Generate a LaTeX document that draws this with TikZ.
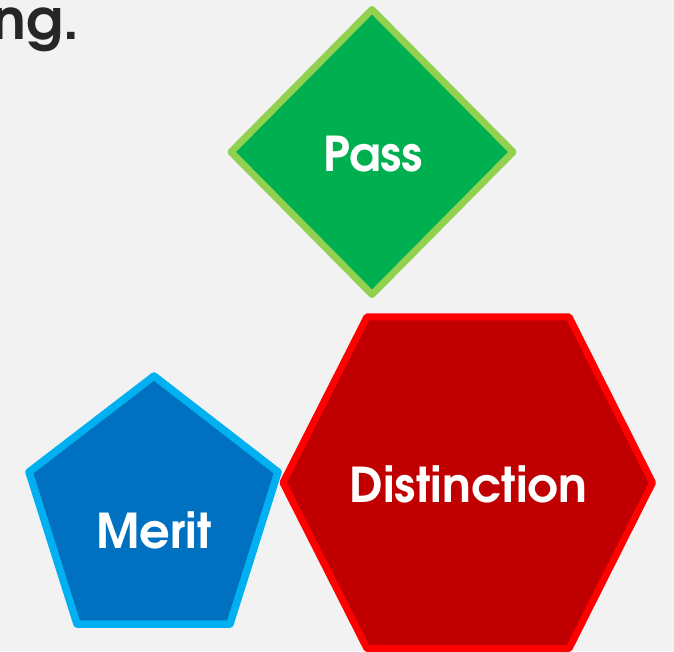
\documentclass[tikz,border=0pt]{standalone}
\usepackage{fontspec}
\setmainfont{TeX Gyre Adventor}
\definecolor{bg}{HTML}{F2F2F2}
\definecolor{passfill}{HTML}{00B050}
\definecolor{passline}{HTML}{92D050}
\definecolor{meritfill}{HTML}{0070C0}
\definecolor{meritline}{HTML}{00B0F0}
\definecolor{distfill}{HTML}{C00000}
\definecolor{distline}{HTML}{FF0000}
\definecolor{titletext}{HTML}{262626}
\tikzset{
  shapeline/.style={line width=7pt, line join=round},
  label/.style={text=white, font=\bfseries\fontsize{48}{48}\selectfont, inner sep=0pt},
}
\begin{document}
\begin{tikzpicture}[x=1pt, y=-1pt]
\fill[bg] (0,0) rectangle (674,651);
\useasboundingbox (0,0) rectangle (674,651);
\clip (0,0) rectangle (674,651);
% title fragment
\node[anchor=base east, inner sep=0pt, text=titletext, font=\bfseries\fontsize{56}{56}\selectfont] (title) at (79,39) {ng.};
% diamond
\coordinate (dT) at (372,9.5);
\coordinate (dL) at (231,152);
\coordinate (dR) at (513,152);
\coordinate (dB) at (372,294.5);
\draw[shapeline, draw=passline, fill=passfill] (dT) -- (dR) -- (dB) -- (dL) -- cycle;
\node[label, anchor=base] (pass) at (373,171.5) {Pass};
% pentagon
\coordinate (pT) at (154,376);
\coordinate (pUR) at (278,472);
\coordinate (pBR) at (230,624);
\coordinate (pBL) at (77,624);
\coordinate (pUL) at (29,472);
\draw[shapeline, line width=7.5pt, draw=meritline, fill=meritfill] (pT) -- (pUR) -- (pBR) -- (pBL) -- (pUL) -- cycle;
\node[label, anchor=base] (merit) at (154.3,548.3) {Merit};
% hexagon
\coordinate (hTL) at (367,316.8);
\coordinate (hTR) at (569,316.8);
\coordinate (hR) at (652.5,482.7);
\coordinate (hBR) at (569,648.6);
\coordinate (hBL) at (367,648.6);
\coordinate (hL) at (283,482.7);
\draw[shapeline, draw=distline, fill=distfill] (hTL) -- (hTR) -- (hR) -- (hBR) -- (hBL) -- (hL) -- cycle;
\node[label, anchor=base] (dist) at (468.5,502.3) {Distinction};
\end{tikzpicture}
\end{document}
